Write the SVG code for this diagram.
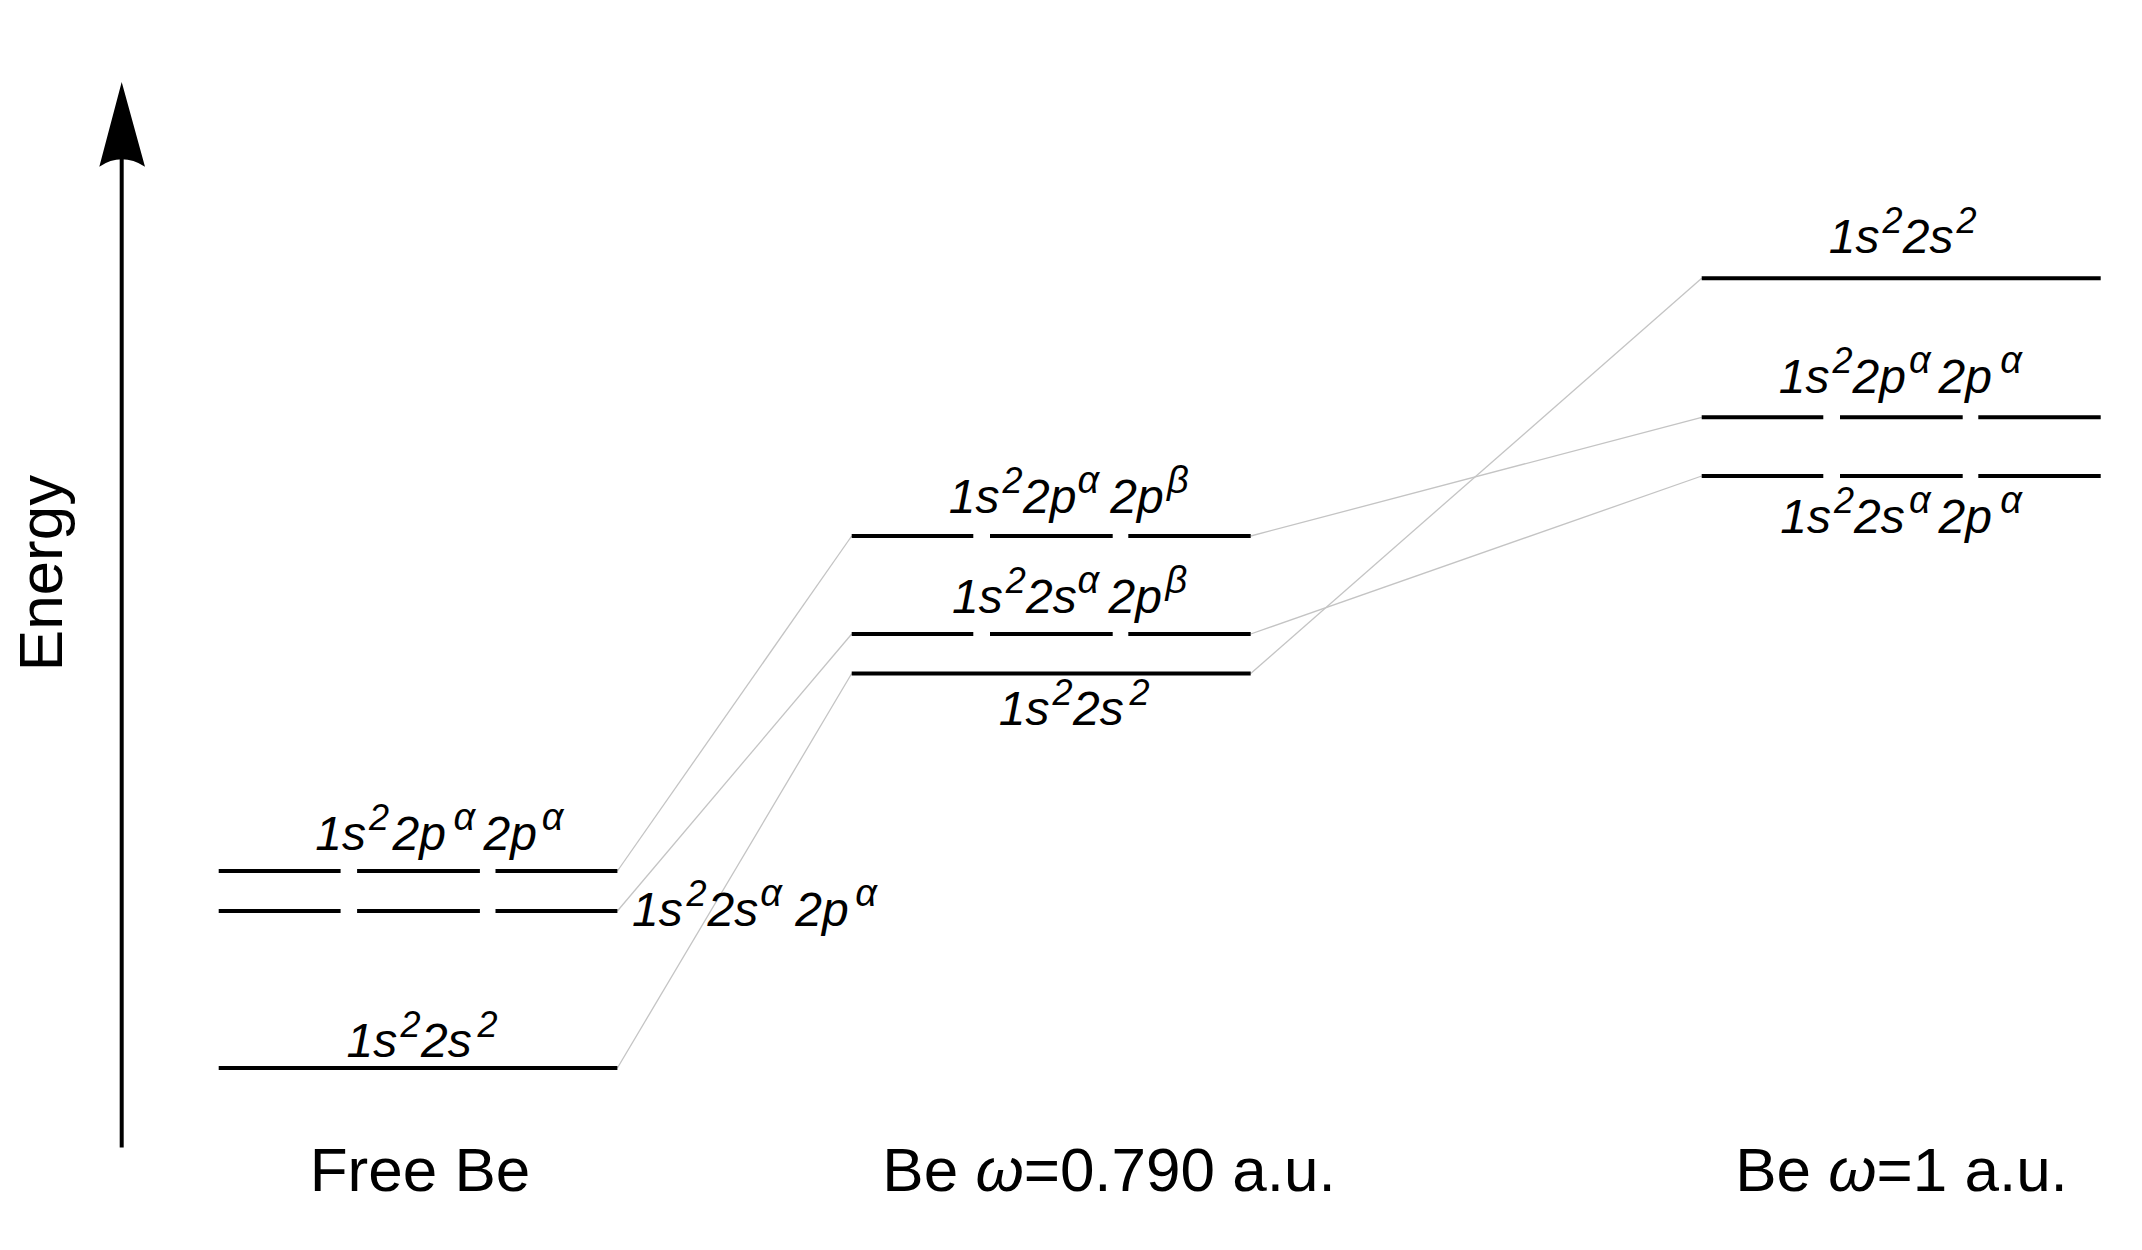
<svg xmlns="http://www.w3.org/2000/svg" width="2142" height="1250" viewBox="0 0 2142 1250">
<style>
.lvl{stroke:#000;stroke-width:4;fill:none}
.con{stroke:#c4c4c4;stroke-width:1.3;fill:none}
.lab{font-family:"Liberation Sans",Arial,sans-serif;font-style:italic;font-size:48px;fill:#000}
.sup{font-size:38px}
.sq{font-size:36px}
.big{font-family:"Liberation Sans",Arial,sans-serif;font-size:62px;fill:#000}
</style>
<rect width="2142" height="1250" fill="#fff"/>
<g id="axis">
<line x1="121.7" y1="1147.5" x2="121.7" y2="158" stroke="#000" stroke-width="4"/>
<path d="M121.7,82 L145,166.7 Q121.7,152 99.3,166.7 Z" fill="#000"/>
<text class="big" transform="translate(62,573) rotate(-90)" text-anchor="middle">Energy</text>
</g>
<g id="connectors">
<line class="con" x1="617.4" y1="871" x2="851.7" y2="536"/>
<line class="con" x1="617.4" y1="911" x2="851.7" y2="634"/>
<line class="con" x1="617.4" y1="1068" x2="851.7" y2="673.5"/>
<line class="con" x1="1250.7" y1="536" x2="1701.7" y2="417.3"/>
<line class="con" x1="1250.7" y1="634" x2="1701.7" y2="476"/>
<line class="con" x1="1250.7" y1="673.5" x2="1701.7" y2="278.3"/>
</g>
<g id="free-2p2p">
<path class="lvl" d="M218.7,871H340.6M357.1,871H479.9M495.5,871H617.4"/>
<text class="lab"><tspan x="315.3" y="850">1s</tspan><tspan class="sq" x="369" y="830">2</tspan><tspan x="392.5" y="850">2p</tspan><tspan class="sup" x="453.5" y="830">α</tspan><tspan x="483.6" y="850">2p</tspan><tspan class="sup" x="541.8" y="830">α</tspan></text>
</g>
<g id="free-2s2p">
<path class="lvl" d="M218.7,911H340.6M357.1,911H479.9M495.5,911H617.4"/>
<text class="lab"><tspan x="632" y="926">1s</tspan><tspan class="sq" x="686.5" y="906">2</tspan><tspan x="707.5" y="926">2s</tspan><tspan class="sup" x="760.2" y="906">α</tspan><tspan x="795.3" y="926">2p</tspan><tspan class="sup" x="855.2" y="906">α</tspan></text>
</g>
<g id="free-2s2">
<path class="lvl" d="M218.7,1068H617.4"/>
<text class="lab"><tspan x="346.6" y="1056.7">1s</tspan><tspan class="sq" x="400.5" y="1036.7">2</tspan><tspan x="421" y="1056.7">2s</tspan><tspan class="sq" x="477.5" y="1036.7">2</tspan></text>
</g>
<g id="mid-2p2p">
<path class="lvl" d="M851.7,536H973.3M990,536H1112.7M1128.3,536H1250.7"/>
<text class="lab"><tspan x="948.7" y="513.3">1s</tspan><tspan class="sq" x="1002.5" y="493.3">2</tspan><tspan x="1023" y="513.3">2p</tspan><tspan class="sup" x="1077.5" y="493.3">α</tspan><tspan x="1110.3" y="513.3">2p</tspan><tspan class="sup" x="1167" y="493.3">β</tspan></text>
</g>
<g id="mid-2s2p">
<path class="lvl" d="M851.7,634H973.3M990,634H1112.7M1128.3,634H1250.7"/>
<text class="lab"><tspan x="952" y="613.3">1s</tspan><tspan class="sq" x="1005.8" y="593.3">2</tspan><tspan x="1026" y="613.3">2s</tspan><tspan class="sup" x="1077.5" y="593.3">α</tspan><tspan x="1108.6" y="613.3">2p</tspan><tspan class="sup" x="1165.4" y="593.3">β</tspan></text>
</g>
<g id="mid-2s2">
<path class="lvl" d="M851.7,673.5H1250.7"/>
<text class="lab"><tspan x="998.7" y="725">1s</tspan><tspan class="sq" x="1052.5" y="705">2</tspan><tspan x="1073" y="725">2s</tspan><tspan class="sq" x="1129.5" y="705">2</tspan></text>
</g>
<g id="w1-2s2">
<path class="lvl" d="M1701.7,278.3H2100.7"/>
<text class="lab"><tspan x="1828.7" y="253.3">1s</tspan><tspan class="sq" x="1882.5" y="233.3">2</tspan><tspan x="1902.7" y="253.3">2s</tspan><tspan class="sq" x="1956.5" y="233.3">2</tspan></text>
</g>
<g id="w1-2p2p">
<path class="lvl" d="M1701.7,417.3H1823.3M1840,417.3H1962.7M1978.3,417.3H2100.7"/>
<text class="lab"><tspan x="1778.7" y="393.3">1s</tspan><tspan class="sq" x="1832.5" y="373.3">2</tspan><tspan x="1852.5" y="393.3">2p</tspan><tspan class="sup" x="1909" y="373.3">α</tspan><tspan x="1938.6" y="393.3">2p</tspan><tspan class="sup" x="2000.2" y="373.3">α</tspan></text>
</g>
<g id="w1-2s2p">
<path class="lvl" d="M1701.7,476H1823.3M1840,476H1962.7M1978.3,476H2100.7"/>
<text class="lab"><tspan x="1780.3" y="533.3">1s</tspan><tspan class="sq" x="1834" y="513.3">2</tspan><tspan x="1854" y="533.3">2s</tspan><tspan class="sup" x="1909" y="513.3">α</tspan><tspan x="1938.6" y="533.3">2p</tspan><tspan class="sup" x="2000.2" y="513.3">α</tspan></text>
</g>
<g id="col-labels">
<text class="big" x="420" y="1191" text-anchor="middle">Free Be</text>
<text class="big" x="1109" y="1191" text-anchor="middle">Be <tspan font-style="italic">ω</tspan>=0.790 a.u.</text>
<text class="big" x="1901.5" y="1191" text-anchor="middle">Be <tspan font-style="italic">ω</tspan>=1 a.u.</text>
</g>
</svg>
